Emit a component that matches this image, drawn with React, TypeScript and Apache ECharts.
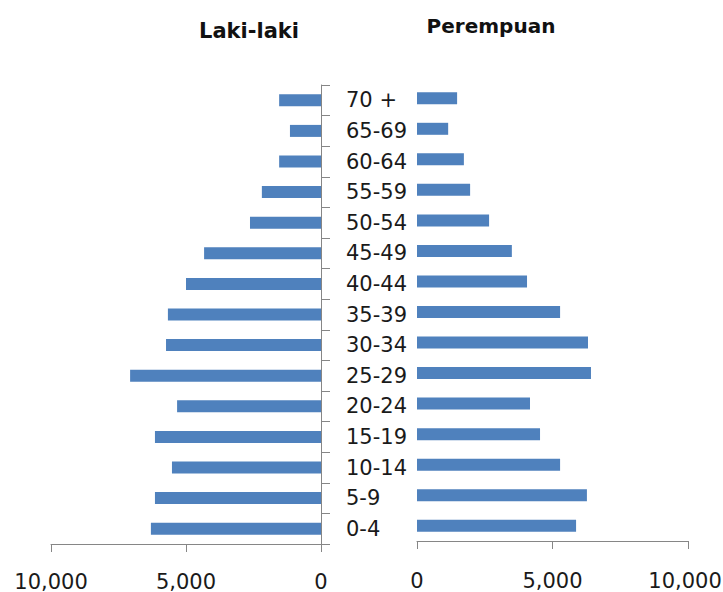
import React, { useEffect, useRef } from "react";
import * as echarts from "echarts";

const categories = ["0-4", "5-9", "10-14", "15-19", "20-24", "25-29", "30-34", "35-39", "40-44", "45-49", "50-54", "55-59", "60-64", "65-69", "70 +"];
const maleValues = [6300, 6150, 5520, 6150, 5330, 7070, 5740, 5670, 5000, 4330, 2630, 2190, 1550, 1150, 1550];
const femaleValues = [5870, 6270, 5280, 4540, 4170, 6420, 6310, 5280, 4060, 3500, 2660, 1960, 1730, 1150, 1480];
const maleTitle = "Laki-laki";
const femaleTitle = "Perempuan";
const axisMax = 10000;
const axisInterval = 5000;

const fmt = (v: number) => v.toLocaleString("en-US");

export default function App() {
  const ref = useRef<HTMLDivElement>(null);
  useEffect(() => {
    document.body.style.margin = "0";
    if (!ref.current) return;
    const chart = echarts.init(ref.current, undefined, { renderer: "svg" });
    const axisColor = "#868686";
    const textColor = "#1a1a1a";
    const font = "DejaVu Sans";
    chart.setOption({
      animation: false,
      backgroundColor: "#ffffff",
      textStyle: { fontFamily: font },
      graphic: [
        {
          type: "text",
          x: 249,
          y: 31,
          style: { text: maleTitle, font: "bold 21px 'DejaVu Sans'", fill: "#111", textAlign: "center", textVerticalAlign: "middle" },
        },
        {
          type: "text",
          x: 491,
          y: 26,
          style: { text: femaleTitle, font: "bold 20px 'DejaVu Sans'", fill: "#111", textAlign: "center", textVerticalAlign: "middle" },
        },
      ],
      grid: [
        { left: 51, right: 402, top: 85, bottom: 48, outerBoundsMode: "none", containLabel: false },
        { left: 417, right: 35, top: 83, bottom: 51, outerBoundsMode: "none", containLabel: false },
      ],
      xAxis: [
        {
          gridIndex: 0,
          type: "value",
          inverse: true,
          min: 0,
          max: axisMax,
          interval: axisInterval,
          splitLine: { show: false },
          axisLine: { show: true, lineStyle: { color: axisColor } },
          axisTick: { show: true, length: 8, lineStyle: { color: axisColor } },
          axisLabel: { formatter: fmt, fontSize: 21, color: textColor, margin: 27, fontFamily: font },
        },
        {
          gridIndex: 1,
          type: "value",
          min: 0,
          max: axisMax,
          interval: axisInterval,
          splitLine: { show: false },
          axisLine: { show: true, lineStyle: { color: axisColor } },
          axisTick: { show: true, length: 8, lineStyle: { color: axisColor } },
          axisLabel: {
            formatter: (v: number) => (v === axisMax ? "{m|" + fmt(v) + "}" : fmt(v)),
            fontSize: 21,
            color: textColor,
            margin: 29,
            fontFamily: font,
            rich: { m: { fontSize: 21, color: textColor, fontFamily: font, padding: [0, 6, 0, 0] } },
          },
        },
      ],
      yAxis: [
        {
          gridIndex: 0,
          type: "category",
          data: categories,
          position: "right",
          axisLine: { show: true, onZero: false, lineStyle: { color: axisColor } },
          axisTick: { show: true, length: 9, lineStyle: { color: axisColor } },
          axisLabel: { show: true, margin: 25, fontSize: 21, color: textColor, align: "left", fontFamily: font },
          splitLine: { show: false },
        },
        {
          gridIndex: 1,
          type: "category",
          data: categories,
          axisLine: { show: false },
          axisTick: { show: false },
          axisLabel: { show: false },
          splitLine: { show: false },
        },
      ],
      series: [
        {
          name: maleTitle,
          type: "bar",
          xAxisIndex: 0,
          yAxisIndex: 0,
          data: maleValues,
          barWidth: 12,
          itemStyle: { color: "#4f81bd" },
        },
        {
          name: femaleTitle,
          type: "bar",
          xAxisIndex: 1,
          yAxisIndex: 1,
          data: femaleValues,
          barWidth: 12,
          itemStyle: { color: "#4f81bd" },
        },
      ],
    });
    return () => chart.dispose();
  }, []);
  return <div ref={ref} style={{ width: 723, height: 592 }} />;
}
